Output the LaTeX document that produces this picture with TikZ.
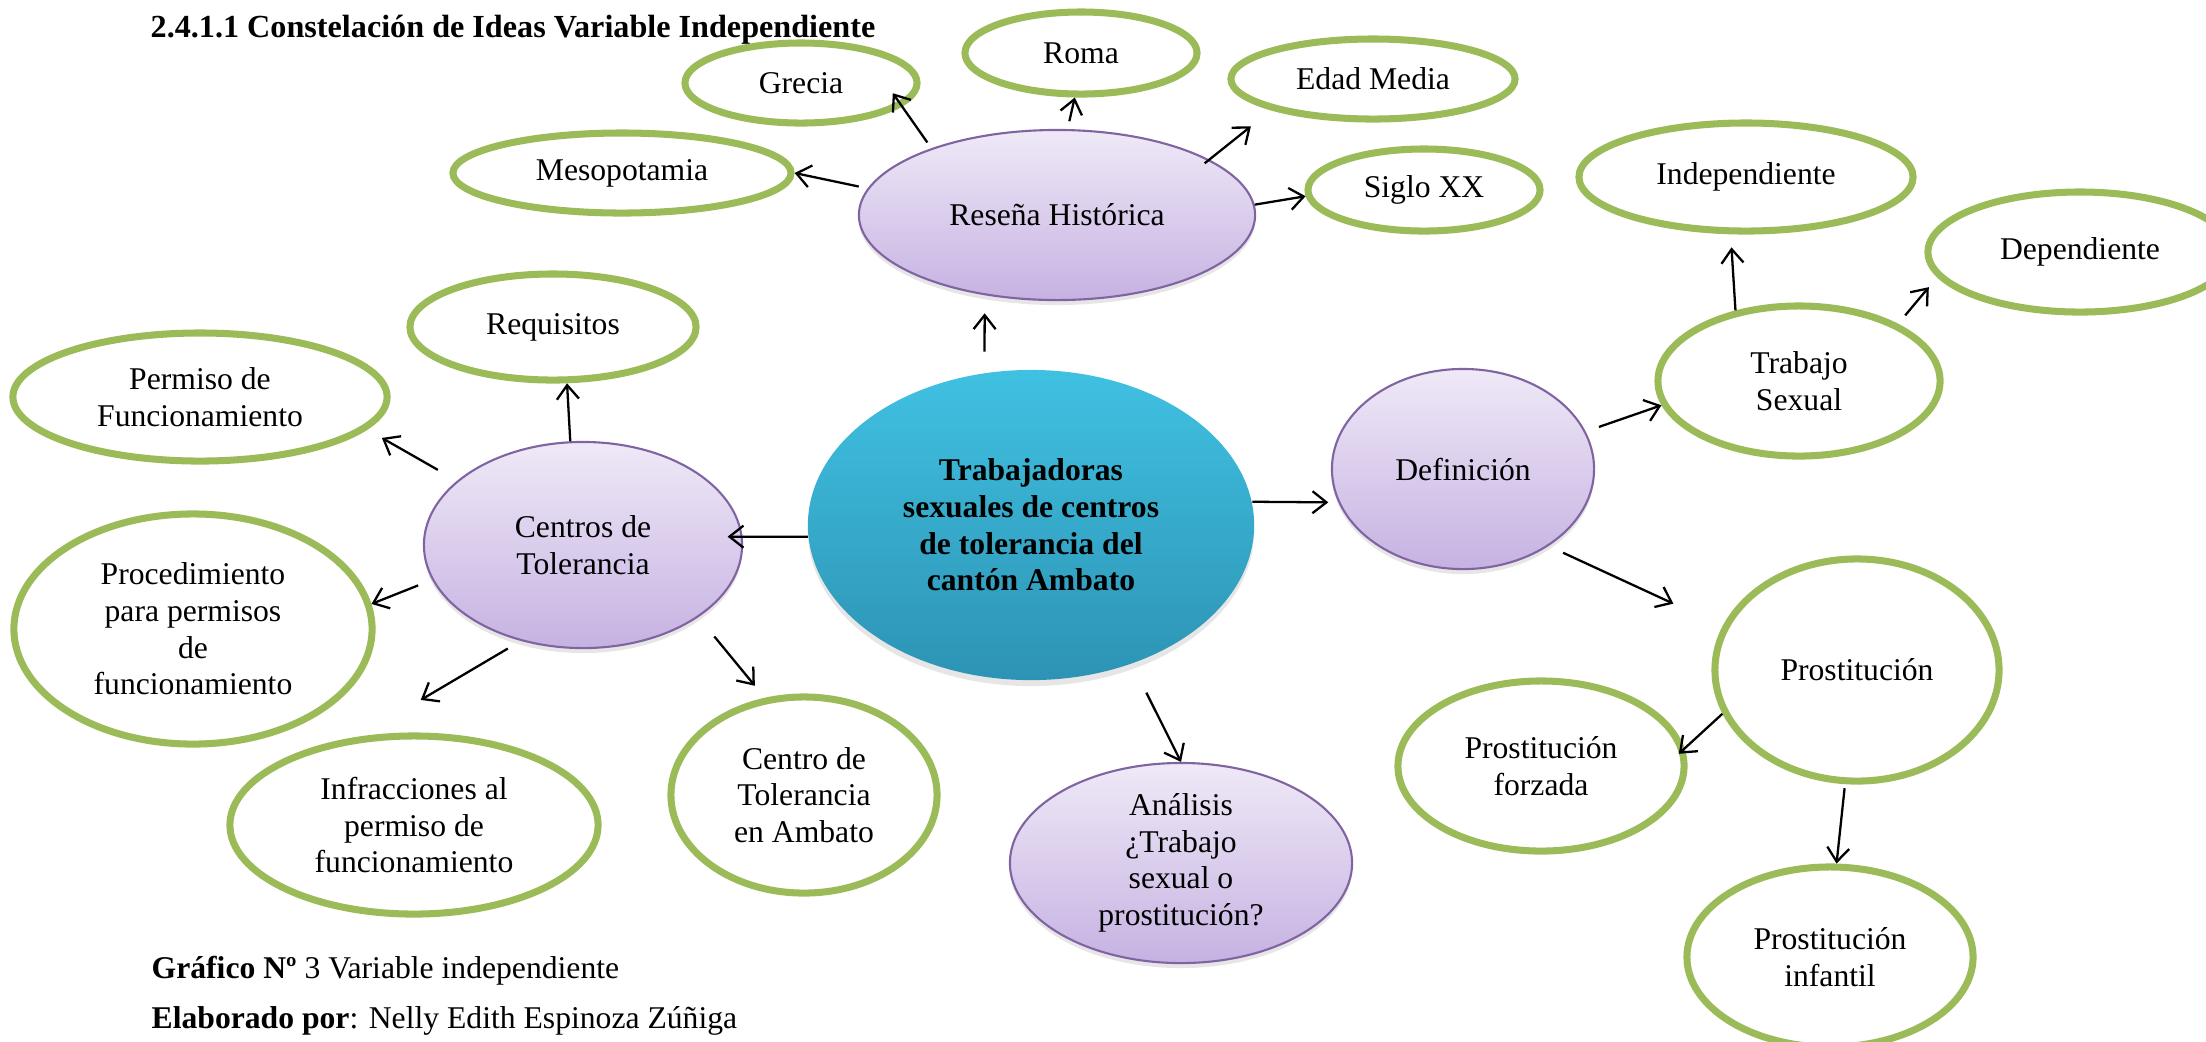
\documentclass[tikz,border=0pt]{standalone}
\usepackage{fontspec}
\setmainfont{Liberation Serif}
\usetikzlibrary{shapes.geometric,arrows.meta,shadows}

\definecolor{verdeidea}{HTML}{9BBB59}
\definecolor{moradoborde}{HTML}{8064A2}
\definecolor{moradoclaro}{HTML}{EFE9F7}
\definecolor{moradoosc}{HTML}{C6B2E2}
\definecolor{azulclaro}{HTML}{40C1E2}
\definecolor{azulosc}{HTML}{2D93B4}

\newcommand{\letra}{\fontsize{9}{10.4}\selectfont}

\tikzset{
  idea/.style={ellipse,draw=verdeidea,line width=2pt,fill=white,inner sep=0pt,align=center,font=\letra},
  tema/.style={ellipse,draw=moradoborde,line width=0.6pt,top color=moradoclaro,bottom color=moradoosc,
    inner sep=0pt,align=center,font=\letra,
    drop shadow={opacity=0.2,shadow xshift=0pt,shadow yshift=-0.05cm}},
  nucleo/.style={ellipse,top color=azulclaro,bottom color=azulosc,inner sep=0pt,align=center,
    font=\letra\bfseries,drop shadow={opacity=0.2,shadow xshift=0pt,shadow yshift=-0.06cm}},
  rotulo/.style={anchor=base west,inner sep=0pt,font=\letra},
  flecha/.style={->,line width=0.65pt}
}

\begin{document}
\begin{tikzpicture}[x=0.01cm,y=-0.01cm,>={Straight Barb[length=0.14cm,width=0.22cm]}]
    \useasboundingbox (0,0) rectangle (2206,1041);
    %% title and caption
    \node[rotulo,font=\fontsize{9.15}{10.4}\selectfont\bfseries] (titulo) at (150,37) {2.4.1.1 Constelación de Ideas Variable Independiente};
    \node[rotulo] (grafico) at (151,978) {\textbf{Gráfico Nº} 3 Variable independiente};
    \node[rotulo] (autor) at (151,1028) {\textbf{Elaborado por}: Nelly Edith Espinoza Zúñiga};
    %% central idea
    \node[nucleo,minimum width=4.46cm,minimum height=3.10cm] (centro) at (1031,525) {Trabajadoras\\sexuales de centros\\de tolerancia del\\cantón Ambato};
    %% historical review
    \node[tema,minimum width=3.96cm,minimum height=1.70cm] (resena) at (1057,215) {Reseña Histórica};
    \node[idea,minimum width=3.38cm,minimum height=0.80cm] (meso) at (622,173) {Mesopotamia};
    \node[idea,minimum width=2.32cm,minimum height=0.80cm] (grecia) at (801,83) {Grecia};
    \node[idea,minimum width=2.32cm,minimum height=0.82cm] (roma) at (1081,53) {Roma};
    \node[idea,minimum width=2.84cm,minimum height=0.80cm] (edad) at (1373,79) {Edad Media};
    \node[idea,minimum width=2.32cm,minimum height=0.82cm] (siglo) at (1424,190) {Siglo XX};
    %% definition
    \node[tema,minimum width=2.62cm,minimum height=2.00cm] (defin) at (1463,469) {Definición};
    \node[idea,minimum width=2.82cm,minimum height=1.50cm] (trabajo) at (1799,381) {Trabajo\\Sexual};
    \node[idea,minimum width=3.34cm,minimum height=1.08cm] (indep) at (1746,177) {Independiente};
    \node[idea,minimum width=3.04cm,minimum height=1.20cm] (dep) at (2080,252) {Dependiente};
    \node[idea,minimum width=2.84cm,minimum height=2.22cm] (prost) at (1857,670) {Prostitución};
    \node[idea,minimum width=2.86cm,minimum height=1.70cm] (forzada) at (1541,766) {Prostitución\\forzada};
    \node[idea,minimum width=2.86cm,minimum height=1.80cm] (infantil) at (1830,957) {Prostitución\\infantil};
    %% analysis
    \node[tema,minimum width=3.42cm,minimum height=2.00cm] (analisis) at (1181,863) {Análisis\\¿Trabajo\\sexual o\\prostitución?};
    %% tolerance centres
    \node[tema,minimum width=3.18cm,minimum height=2.06cm] (centros) at (583,545) {Centros de\\Tolerancia};
    \node[idea,minimum width=2.86cm,minimum height=1.06cm] (requisitos) at (553,327) {Requisitos};
    \node[idea,minimum width=3.74cm,minimum height=1.28cm] (permiso) at (200,397) {Permiso de\\Funcionamiento};
    \node[idea,minimum width=3.58cm,minimum height=2.30cm] (proced) at (193,629) {Procedimiento\\para permisos\\de\\funcionamiento};
    \node[idea,minimum width=3.68cm,minimum height=1.78cm] (infracc) at (414,825) {Infracciones al\\permiso de\\funcionamiento};
    \node[idea,minimum width=2.66cm,minimum height=1.96cm] (ambato) at (804,795) {Centro de\\Tolerancia\\en Ambato};
    %% arrows from the central idea
    \draw[flecha,shorten <=0.21cm,shorten >=0.18cm] (centro.107) -- (resena.228);
    \draw[flecha,shorten >=0.10cm] (centro.6) -- (defin.195);
    \draw[flecha,shorten <=0.32cm] (centro.306) -- (analisis.90);
    \draw[flecha,shorten >=-0.15cm] (centro.183) -- (centros.3);
    %% arrows of the historical review
    \draw[flecha,shorten <=0.09cm] (resena.172) -- (meso.0);
    \draw[flecha,shorten <=0.07cm,shorten >=-0.16cm] (resena.152) -- (grecia.347);
    \draw[flecha,shorten <=0.08cm] (resena.83) -- (roma.262);
    \draw[flecha,shorten <=-0.06cm,shorten >=0.26cm] (resena.20) -- (edad.197);
    \draw[flecha] (resena.3) -- (siglo.183);
    %% arrows of the definition
    \draw[flecha,shorten <=0.14cm] (defin.17) -- (trabajo.190);
    \draw[flecha,shorten >=0.13cm] (trabajo.132) -- (indep.255);
    \draw[flecha,shorten <=0.11cm,shorten >=0.13cm] (trabajo.30) -- (dep.190);
    \draw[flecha,shorten <=0.16cm,shorten >=0.54cm] (defin.318) -- (prost.162);
    \draw[flecha,shorten >=-0.08cm] (prost.198) -- (forzada.7);
    \draw[flecha,shorten <=0.04cm] (prost.264) -- (infantil.86);
    %% arrows of the tolerance centres
    \draw[flecha] (centros.97) -- (requisitos.284);
    \draw[flecha,shorten <=0.22cm,shorten >=0.17cm] (centros.153) -- (permiso.349);
    \draw[flecha,shorten <=0.15cm] (centros.193) -- (proced.8);
    \draw[flecha,shorten <=0.15cm,shorten >=0.72cm] (centros.237) -- (infracc.122);
    \draw[flecha,shorten <=0.25cm,shorten >=0.155cm] (centros.328) -- (ambato.112);
\end{tikzpicture}
\end{document}
